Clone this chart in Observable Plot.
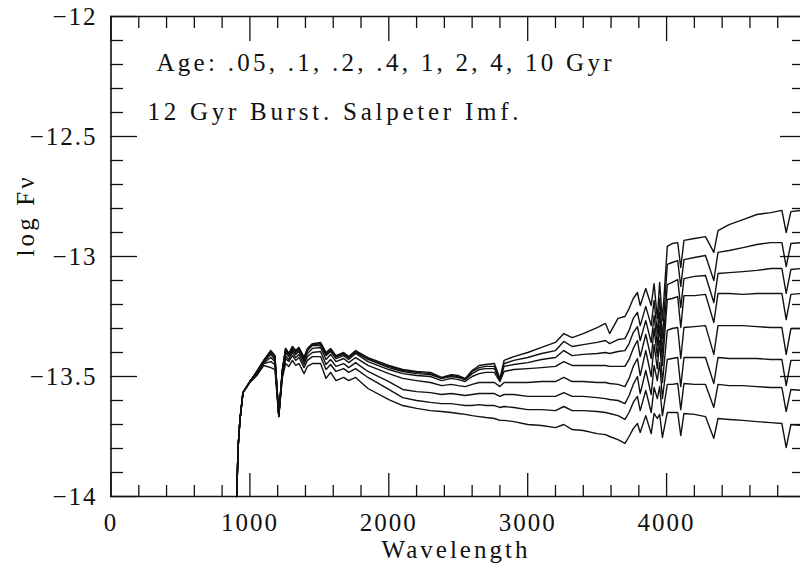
<!DOCTYPE html>
<html><head><meta charset="utf-8">
<script src="https://cdn.jsdelivr.net/npm/d3@7"></script>
<script src="https://cdn.jsdelivr.net/npm/@observablehq/plot@0.6"></script>
<style>
html,body{margin:0;padding:0;background:#fff;overflow:hidden;}
#chart svg text{letter-spacing:2px;}
</style></head><body><div id="chart"></div>
<script>
// Wavelength grid (Angstrom)
const wavelength = [905,915,928,950,1000,1050,1100,1150,1180,1208,
1233,1257,1280,1306,1330,1353,1390,1414,1450,1509,
1548,1581,1620,1675,1711,1761,1850,2000,2100,2200,
2300,2380,2450,2500,2550,2600,2650,2700,2760,2800,
2830,2900,3000,3100,3200,3260,3320,3400,3500,3560,
3590,3650,3700,3730,3760,3790,3810,3850,3889,3910,
3933,3950,3970,4005,4040,4080,4102,4125,4200,4280,
4340,4370,4450,4550,4650,4750,4830,4861,4895,4970];

const ages = [".05", ".1", ".2", ".4", "1", "2", "4", "10"];

// log F_nu for each age
const flux_005 = [-14.000,-13.796,-13.683,-13.567,-13.525,-13.496,-13.454,-13.463,-13.471,-13.667,
-13.508,-13.446,-13.458,-13.433,-13.454,-13.446,-13.488,-13.458,-13.446,-13.446,
-13.508,-13.483,-13.517,-13.504,-13.517,-13.504,-13.550,-13.596,-13.621,-13.633,
-13.642,-13.646,-13.650,-13.654,-13.658,-13.663,-13.667,-13.671,-13.675,-13.683,
-13.683,-13.688,-13.700,-13.704,-13.713,-13.700,-13.721,-13.725,-13.738,-13.742,
-13.750,-13.763,-13.779,-13.750,-13.717,-13.696,-13.733,-13.663,-13.738,-13.654,
-13.675,-13.658,-13.754,-13.650,-13.650,-13.650,-13.746,-13.654,-13.658,-13.667,
-13.758,-13.675,-13.679,-13.683,-13.688,-13.692,-13.696,-13.796,-13.700,-13.704];

const flux_01 = [-14.000,-13.796,-13.683,-13.567,-13.521,-13.492,-13.446,-13.438,-13.450,-13.667,
-13.500,-13.425,-13.438,-13.413,-13.433,-13.421,-13.463,-13.433,-13.417,-13.417,
-13.471,-13.450,-13.479,-13.467,-13.483,-13.467,-13.504,-13.554,-13.588,-13.600,
-13.608,-13.613,-13.613,-13.617,-13.621,-13.621,-13.617,-13.621,-13.621,-13.629,
-13.625,-13.629,-13.638,-13.638,-13.642,-13.625,-13.642,-13.642,-13.646,-13.650,
-13.654,-13.663,-13.679,-13.650,-13.608,-13.583,-13.642,-13.558,-13.650,-13.546,
-13.592,-13.542,-13.663,-13.533,-13.533,-13.529,-13.638,-13.529,-13.533,-13.533,
-13.629,-13.533,-13.538,-13.538,-13.542,-13.546,-13.546,-13.646,-13.554,-13.558];

const flux_02 = [-14.000,-13.796,-13.683,-13.567,-13.521,-13.488,-13.442,-13.421,-13.438,-13.663,
-13.492,-13.413,-13.429,-13.400,-13.421,-13.408,-13.450,-13.417,-13.400,-13.396,
-13.450,-13.429,-13.458,-13.446,-13.463,-13.442,-13.479,-13.521,-13.554,-13.563,
-13.567,-13.575,-13.571,-13.575,-13.579,-13.575,-13.571,-13.571,-13.571,-13.583,
-13.575,-13.575,-13.583,-13.583,-13.583,-13.567,-13.583,-13.583,-13.588,-13.592,
-13.596,-13.600,-13.613,-13.579,-13.533,-13.500,-13.571,-13.475,-13.575,-13.454,
-13.517,-13.442,-13.592,-13.429,-13.425,-13.421,-13.542,-13.421,-13.421,-13.421,
-13.529,-13.421,-13.425,-13.425,-13.425,-13.429,-13.429,-13.538,-13.433,-13.433];

const flux_04 = [-14.000,-13.796,-13.683,-13.567,-13.521,-13.483,-13.438,-13.408,-13.429,-13.663,
-13.483,-13.400,-13.417,-13.392,-13.408,-13.396,-13.438,-13.404,-13.383,-13.379,
-13.429,-13.408,-13.438,-13.425,-13.442,-13.421,-13.454,-13.488,-13.508,-13.517,
-13.525,-13.538,-13.533,-13.538,-13.542,-13.533,-13.525,-13.525,-13.525,-13.542,
-13.525,-13.525,-13.525,-13.521,-13.521,-13.504,-13.521,-13.521,-13.525,-13.525,
-13.529,-13.533,-13.542,-13.508,-13.458,-13.425,-13.496,-13.392,-13.500,-13.367,
-13.467,-13.350,-13.525,-13.308,-13.300,-13.296,-13.425,-13.296,-13.292,-13.288,
-13.408,-13.288,-13.288,-13.288,-13.292,-13.296,-13.296,-13.408,-13.300,-13.300];

const flux_1 = [-14.000,-13.796,-13.683,-13.567,-13.521,-13.483,-13.438,-13.400,-13.421,-13.663,
-13.479,-13.392,-13.413,-13.383,-13.400,-13.388,-13.429,-13.392,-13.371,-13.371,
-13.413,-13.396,-13.425,-13.413,-13.429,-13.404,-13.438,-13.471,-13.488,-13.496,
-13.500,-13.517,-13.508,-13.513,-13.521,-13.500,-13.488,-13.483,-13.483,-13.521,
-13.479,-13.471,-13.467,-13.463,-13.458,-13.438,-13.454,-13.454,-13.454,-13.454,
-13.458,-13.458,-13.458,-13.429,-13.383,-13.350,-13.417,-13.325,-13.425,-13.300,
-13.417,-13.288,-13.454,-13.179,-13.175,-13.167,-13.296,-13.163,-13.163,-13.158,
-13.275,-13.154,-13.154,-13.158,-13.154,-13.154,-13.154,-13.263,-13.158,-13.154];

const flux_2 = [-14.000,-13.796,-13.683,-13.567,-13.521,-13.479,-13.433,-13.396,-13.417,-13.663,
-13.479,-13.388,-13.408,-13.379,-13.396,-13.383,-13.425,-13.388,-13.367,-13.363,
-13.408,-13.388,-13.417,-13.408,-13.421,-13.400,-13.429,-13.463,-13.479,-13.488,
-13.492,-13.508,-13.500,-13.504,-13.513,-13.488,-13.471,-13.467,-13.467,-13.517,
-13.458,-13.450,-13.442,-13.429,-13.421,-13.392,-13.413,-13.408,-13.404,-13.400,
-13.404,-13.396,-13.392,-13.363,-13.317,-13.292,-13.350,-13.267,-13.358,-13.246,
-13.371,-13.233,-13.400,-13.117,-13.108,-13.096,-13.213,-13.092,-13.083,-13.079,
-13.192,-13.071,-13.067,-13.063,-13.058,-13.050,-13.050,-13.154,-13.054,-13.050];

const flux_4 = [-14.000,-13.796,-13.683,-13.567,-13.521,-13.479,-13.433,-13.392,-13.413,-13.658,
-13.475,-13.383,-13.404,-13.375,-13.392,-13.379,-13.421,-13.388,-13.367,-13.363,
-13.404,-13.388,-13.417,-13.404,-13.421,-13.396,-13.425,-13.458,-13.475,-13.483,
-13.488,-13.508,-13.496,-13.500,-13.513,-13.479,-13.463,-13.458,-13.458,-13.517,
-13.446,-13.433,-13.421,-13.404,-13.392,-13.354,-13.375,-13.367,-13.358,-13.350,
-13.363,-13.346,-13.342,-13.308,-13.258,-13.233,-13.288,-13.208,-13.288,-13.183,
-13.321,-13.175,-13.342,-13.033,-13.025,-13.017,-13.125,-13.013,-13.004,-12.996,
-13.100,-12.983,-12.975,-12.963,-12.950,-12.942,-12.942,-13.042,-12.946,-12.942];

const flux_10 = [-14.000,-13.796,-13.683,-13.567,-13.521,-13.479,-13.433,-13.392,-13.413,-13.658,
-13.475,-13.383,-13.404,-13.375,-13.392,-13.379,-13.421,-13.383,-13.363,-13.358,
-13.400,-13.383,-13.413,-13.400,-13.417,-13.392,-13.421,-13.454,-13.471,-13.479,
-13.483,-13.504,-13.492,-13.496,-13.508,-13.475,-13.454,-13.450,-13.446,-13.508,
-13.433,-13.417,-13.400,-13.379,-13.358,-13.321,-13.338,-13.321,-13.296,-13.279,
-13.321,-13.258,-13.250,-13.217,-13.175,-13.150,-13.204,-13.133,-13.204,-13.113,
-13.258,-13.108,-13.267,-12.958,-12.946,-12.942,-13.046,-12.933,-12.925,-12.917,
-12.983,-12.892,-12.867,-12.846,-12.825,-12.817,-12.808,-12.900,-12.813,-12.808];

const xMajorTicks = [0, 1000, 2000, 3000, 4000];
const xTickLabels = ["0", "1000", "2000", "3000", "4000"];
const xMinorTicks = [200,400,600,800,1200,1400,1600,1800,2200,2400,2600,2800,3200,3400,3600,3800,4200,4400,4600,4800];
const yMajorTicks = [-12, -12.5, -13, -13.5, -14];
const yTickLabels = ["\u221212", "\u221212.5", "\u221213", "\u221213.5", "\u221214"];
const yMinorTicks = [-12.1,-12.2,-12.3,-12.4,-12.6,-12.7,-12.8,-12.9,-13.1,-13.2,-13.3,-13.4,-13.6,-13.7,-13.8,-13.9];
const annotations = ["Age: .05, .1, .2, .4, 1, 2, 4, 10 Gyr", "12 Gyr Burst. Salpeter Imf."];
const xLabel = "Wavelength";
const yLabel = "log F\u03bd";

const series = [flux_005, flux_01, flux_02, flux_04, flux_1, flux_2, flux_4, flux_10];
const rows = [];
series.forEach((s, k) => s.forEach((v, i) => rows.push({wl: wavelength[i], flux: v, age: ages[k]})));

const W = 800, H = 564, ML = 110, MT = 16, MB = 68, MR = 0;
const frameW = W - ML - MR, frameH = H - MT - MB;

const plot = Plot.plot({
  width: W, height: H,
  marginLeft: ML, marginRight: MR, marginTop: MT, marginBottom: MB,
  style: {fontFamily: "'Liberation Serif', serif", fontSize: "25px", background: "white", color: "#111"},
  x: {domain: [0, 5000], range: [110.5, 805]},
  y: {domain: [-14, -12], range: [H - MB, MT]},
  marks: [
    Plot.line(rows, {x: "wl", y: "flux", z: "age", stroke: "#111", strokeWidth: 1.4, strokeLinejoin: "round"}),
    // frame
    Plot.ruleX([0], {x: d => d, stroke: "#111", strokeWidth: 1.6}),
    Plot.ruleY([-14, -12], {y: d => d, stroke: "#111", strokeWidth: 1.6}),
    // bottom ticks
    Plot.ruleX(xMajorTicks, {x: d => d, insetTop: frameH - 23, stroke: "#111", strokeWidth: 1.3}),
    Plot.ruleX(xMinorTicks, {x: d => d, insetTop: frameH - 11, stroke: "#111", strokeWidth: 1.3}),
    // top ticks
    Plot.ruleX(xMajorTicks, {x: d => d, insetBottom: frameH - 25, stroke: "#111", strokeWidth: 1.3}),
    Plot.ruleX(xMinorTicks, {x: d => d, insetBottom: frameH - 12, stroke: "#111", strokeWidth: 1.3}),
    // left ticks
    Plot.ruleY(yMajorTicks, {y: d => d, insetRight: frameW - 27, stroke: "#111", strokeWidth: 1.3}),
    Plot.ruleY(yMinorTicks, {y: d => d, insetRight: frameW - 13, stroke: "#111", strokeWidth: 1.3}),
    // right ticks (axis just beyond the picture edge)
    Plot.ruleY(yMajorTicks, {y: d => d, insetLeft: frameW - 20, stroke: "#111", strokeWidth: 1.3}),
    Plot.ruleY(yMinorTicks, {y: d => d, insetLeft: frameW - 8, stroke: "#111", strokeWidth: 1.3}),
    // tick labels
    Plot.axisX({ticks: xMajorTicks, tickSize: 0, tickPadding: 17, tickFormat: d => xTickLabels[xMajorTicks.indexOf(d)], label: null}),
    Plot.axisY({ticks: yMajorTicks, tickSize: 0, tickPadding: 13, tickFormat: d => yTickLabels[yMajorTicks.indexOf(d)], label: null}),
    // axis titles
    Plot.text([xLabel], {text: d => d, frameAnchor: "bottom", dy: 61, lineAnchor: "bottom", fill: "#111"}),
    Plot.text([yLabel], {text: d => d, frameAnchor: "left", dx: -77, rotate: -90, lineAnchor: "bottom", fill: "#111"}),
    // annotations
    Plot.text([annotations[0]], {text: d => d, frameAnchor: "top-left", dx: 46, dy: 54, textAnchor: "start", lineAnchor: "bottom", fill: "#111"}),
    Plot.text([annotations[1]], {text: d => d, frameAnchor: "top-left", dx: 37, dy: 103, textAnchor: "start", lineAnchor: "bottom", fill: "#111"})
  ]
});

document.getElementById("chart").appendChild(plot);

// stretch the spaced-out lettering to the reference widths
const widths = new Map([[annotations[0], 457], [annotations[1], 373], [xLabel, 148], [yLabel, 81]]);
d3.select(plot).selectAll("text").each(function() {
  const w = widths.get(this.textContent);
  if (w) { this.setAttribute("textLength", w); this.setAttribute("lengthAdjust", "spacing"); }
});
</script></body></html>
